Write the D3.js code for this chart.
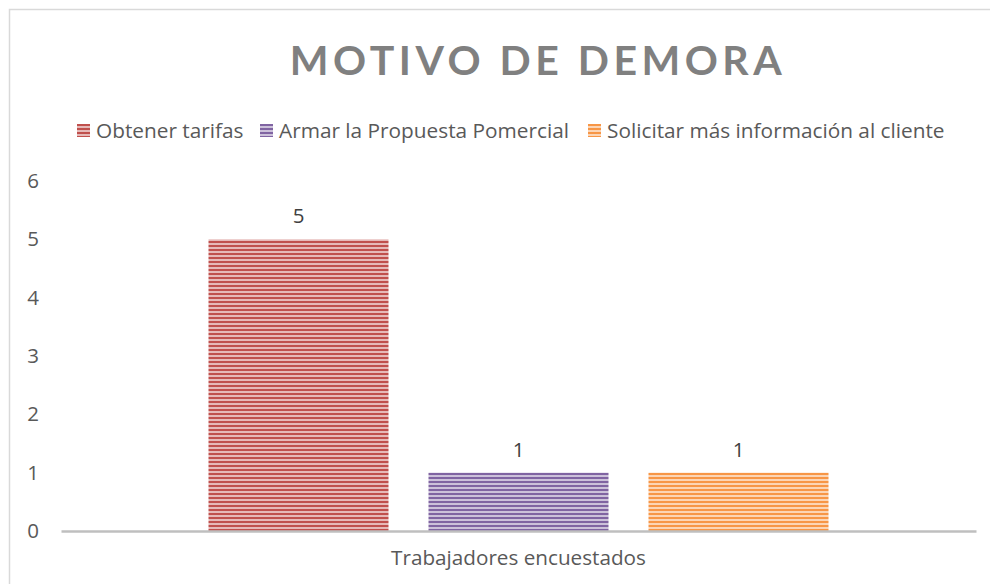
<!DOCTYPE html>
<html>
<head>
<meta charset="utf-8">
<script src="https://cdn.jsdelivr.net/npm/d3@7"></script>
<style>
  body { margin: 0; background: #fff; }
  text { font-family: "Open Sans", Lato, sans-serif; }
</style>
</head>
<body>
<div id="chart"></div>
<script>
// data
var categories = ["Trabajadores encuestados"];
var seriesNames = ["Obtener tarifas", "Armar la Propuesta Pomercial", "Solicitar más información al cliente"];
var seriesValues = [5, 1, 1];
var seriesColors = ["#c0504d", "#8064a2", "#f79646"];
var yTicks = [0, 1, 2, 3, 4, 5, 6];

var W = 990, H = 584;
var margin = {top: 181, left: 61, right: 14, bottom: 53};
var width = W - margin.left - margin.right,
    height = H - margin.top - margin.bottom;

var svg = d3.select("#chart").append("svg")
    .attr("width", W)
    .attr("height", H);

// stripe patterns
var defs = svg.append("defs");
seriesColors.forEach(function(c, i) {
    var light = d3.interpolateRgb(c, "#ffffff")(0.6);
    var p = defs.append("pattern")
        .attr("id", "stripe" + i)
        .attr("patternUnits", "userSpaceOnUse")
        .attr("width", 8).attr("height", 4);
    p.append("rect").attr("width", 8).attr("height", 4).attr("fill", light);
    p.append("rect").attr("width", 8).attr("height", 2).attr("fill", c);
});

// outer border
svg.append("rect")
    .attr("x", 9.5).attr("y", 9.5)
    .attr("width", W + 10).attr("height", H + 10)
    .attr("fill", "none")
    .attr("stroke", "#d9d9d9")
    .attr("stroke-width", 1.5);

// title
svg.append("text")
    .attr("x", 538)
    .attr("y", 75)
    .attr("text-anchor", "middle")
    .style("font-family", "Lato, 'Open Sans', sans-serif")
    .style("font-size", "41px")
    .style("font-weight", "bold")
    .style("letter-spacing", "4.5px")
    .style("fill", "#808080")
    .text("MOTIVO DE DEMORA");

// legend
var legendX = [77, 260, 588];
var legend = svg.append("g");
seriesNames.forEach(function(n, i) {
    var g = legend.append("g").attr("transform", "translate(" + legendX[i] + ",124)");
    g.append("rect").attr("width", 13).attr("height", 13).attr("fill", "url(#stripe" + i + ")");
    g.append("text").attr("x", 19).attr("y", 14)
        .style("font-size", "20.8px").style("fill", "#595959").text(n);
});

var g = svg.append("g").attr("transform", "translate(" + margin.left + "," + margin.top + ")");

var x0 = d3.scaleBand().domain(categories).range([0, width]);
var x1 = d3.scaleBand().domain(seriesNames)
    .range([x0.bandwidth() / 2 - 310, x0.bandwidth() / 2 + 310])
    .paddingInner(40 / 220);
var y = d3.scaleLinear().domain([0, 6]).range([height, 0]);

// y axis labels
var yAxis = d3.axisLeft(y).tickValues(yTicks).tickFormat(d3.format("d")).tickSize(0).tickPadding(22);
g.append("g").attr("class", "y-axis").call(yAxis)
    .call(function(s) { s.select(".domain").remove(); })
    .selectAll("text")
    .style("font-size", "20.5px").style("fill", "#595959")
    .style("font-family", "'Open Sans', Lato, sans-serif");

// bars
g.selectAll("rect.bar")
    .data(seriesValues)
    .enter().append("rect")
    .attr("class", "bar")
    .attr("x", function(d, i) { return x0(categories[0]) + x1(seriesNames[i]); })
    .attr("y", function(d) { return y(d); })
    .attr("width", x1.bandwidth())
    .attr("height", function(d) { return height - y(d); })
    .attr("fill", function(d, i) { return "url(#stripe" + i + ")"; });

// value labels
g.selectAll("text.val")
    .data(seriesValues)
    .enter().append("text")
    .attr("class", "val")
    .attr("x", function(d, i) { return x0(categories[0]) + x1(seriesNames[i]) + x1.bandwidth() / 2; })
    .attr("y", function(d) { return y(d) - 16; })
    .attr("text-anchor", "middle")
    .style("font-size", "20.5px").style("fill", "#404040")
    .text(function(d) { return d; });

// x axis
var xAxis = d3.axisBottom(x0).tickSize(0).tickPadding(19);
g.append("g").attr("class", "x-axis")
    .attr("transform", "translate(0," + height + ")")
    .call(xAxis)
    .call(function(s) {
        s.select(".domain").attr("stroke", "#bfbfbf").attr("stroke-width", 2.5);
    })
    .selectAll("text")
    .style("font-size", "20.7px").style("fill", "#595959")
    .style("font-family", "'Open Sans', Lato, sans-serif");
</script>
</body>
</html>
